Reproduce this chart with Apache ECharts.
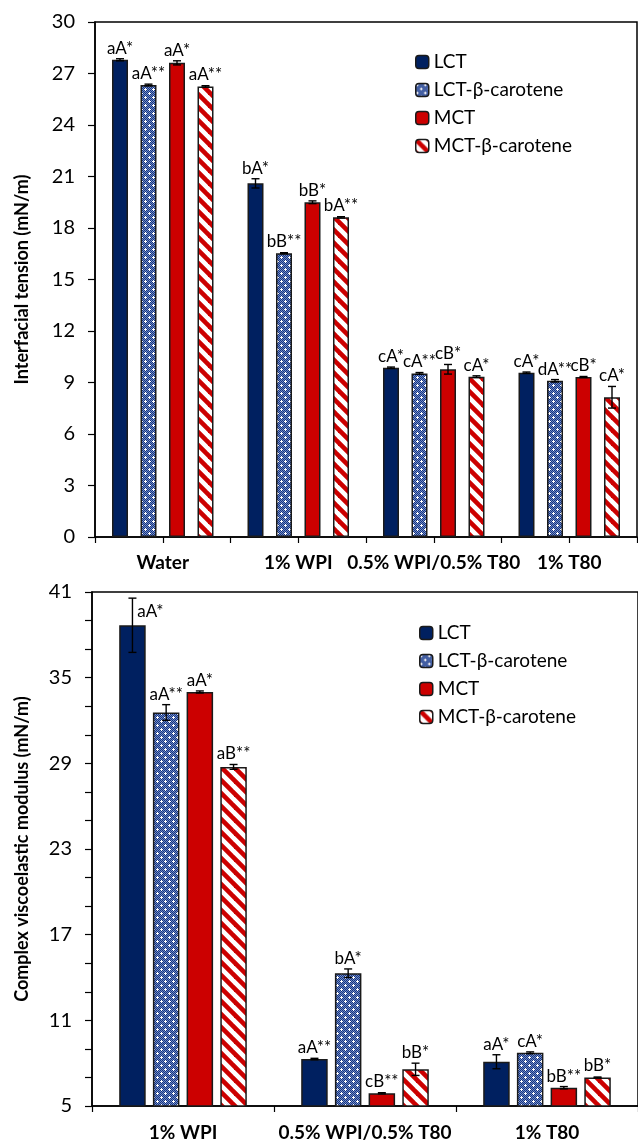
<!DOCTYPE html>
<html>
<head>
<meta charset="utf-8">
<script src="https://cdn.jsdelivr.net/npm/echarts@6/dist/echarts.min.js"></script>
<style>
  html, body { margin: 0; padding: 0; background: #fff; }
  #chart { width: 638px; height: 1142px; }
</style>
</head>
<body>
<div id="chart"></div>
<script>
// ---- data ----
const seriesNames = ['LCT', 'LCT-β-carotene', 'MCT', 'MCT-β-carotene']

// top: interfacial tension (mN/m)
const tensionCats = ['Water', '1% WPI', '0.5% WPI/0.5% T80', '1% T80']
const tensionLCT = [27.80, 20.60, 9.86, 9.57]
const tensionLCTb = [26.33, 16.53, 9.53, 9.10]
const tensionMCT = [27.62, 19.50, 9.77, 9.32]
const tensionMCTb = [26.25, 18.62, 9.34, 8.14]
const tensionErrLCT = [0.06, 0.27, 0.04, 0.04]
const tensionErrLCTb = [0.05, 0.03, 0.05, 0.07]
const tensionErrMCT = [0.12, 0.08, 0.28, 0.03]
const tensionErrMCTb = [0.04, 0.04, 0.05, 0.63]
const tensionTagLCT = ['aA*', 'bA*', 'cA*', 'cA*']
const tensionTagLCTb = ['aA**', 'bB**', 'cA**', 'dA**']
const tensionTagMCT = ['aA*', 'bB*', 'cB*', 'cB*']
const tensionTagMCTb = ['aA**', 'bA**', 'cA*', 'cA*']
const tensionTicks = [0, 3, 6, 9, 12, 15, 18, 21, 24, 27, 30]

// bottom: complex viscoelastic modulus (mN/m)
const modulusCats = ['1% WPI', '0.5% WPI/0.5% T80', '1% T80']
const modulusLCT = [38.67, 8.29, 8.10]
const modulusLCTb = [32.56, 14.30, 8.73]
const modulusMCT = [34.00, 5.89, 6.28]
const modulusMCTb = [28.75, 7.57, 7.00]
const modulusErrLCT = [1.90, 0.05, 0.49]
const modulusErrLCTb = [0.55, 0.30, 0.06]
const modulusErrMCT = [0.07, 0.04, 0.08]
const modulusErrMCTb = [0.17, 0.43, 0.03]
const modulusTagLCT = ['aA*', 'aA**', 'aA*']
const modulusTagLCTb = ['aA**', 'bA*', 'cA*']
const modulusTagMCT = ['aA*', 'cB**', 'bB**']
const modulusTagMCTb = ['aB**', 'bB*', 'bB*']
const modulusTicks = [5, 7, 9, 11, 13, 15, 17, 19, 21, 23, 25, 27, 29, 31, 33, 35, 37, 39, 41]
const modulusLabels = [5, 11, 17, 23, 29, 35, 41]

// ---- styling ----
const FONT = 'Lato'
const NAVY = '#002060'
const RED = '#cc0000'
const EDGE = '#1a1a1a'

function dotPattern() {
  const c = document.createElement('canvas')
  c.width = 8
  c.height = 8
  const ctx = c.getContext('2d')
  for (let y = 0; y < 8; y++) {
    for (let x = 0; x < 8; x++) {
      ctx.fillStyle = (x + y) % 2 ? '#6f8cc8' : '#17337f'
      ctx.fillRect(x, y, 1, 1)
    }
  }
  ctx.fillStyle = '#ffffff'
  const plus = (cx, cy) => {
    ctx.fillRect(cx - 1, cy, 3, 1)
    ctx.fillRect(cx, cy - 1, 1, 3)
  }
  plus(1, 1)
  plus(5, 5)
  return c
}

function stripePattern() {
  const s = 13
  const c = document.createElement('canvas')
  c.width = s
  c.height = s
  const ctx = c.getContext('2d')
  ctx.fillStyle = '#ffffff'
  ctx.fillRect(0, 0, s, s)
  ctx.strokeStyle = RED
  ctx.lineWidth = 4.6
  for (let k = -1; k <= 1; k++) {
    ctx.beginPath()
    ctx.moveTo(k * s - s, -s)
    ctx.lineTo(k * s + 2 * s, 2 * s)
    ctx.stroke()
  }
  return c
}

const fills = [
  NAVY,
  { image: dotPattern(), repeat: 'repeat' },
  RED,
  { image: stripePattern(), repeat: 'repeat' }
]

function bars(gridIdx, values, barW, gap) {
  return values.map((vals, i) => ({
    name: seriesNames[i],
    type: 'bar',
    xAxisIndex: gridIdx === 0 ? 0 : 2,
    yAxisIndex: gridIdx,
    data: vals,
    barWidth: barW,
    barGap: (gap / barW * 100) + '%',
    itemStyle: { color: fills[i], borderColor: EDGE, borderWidth: 1.5 },
    z: 2
  }))
}

// error bars + significance letters
function whiskers(gridIdx, values, errors, tags, barW, gap, nudges) {
  return values.map((vals, i) => ({
    name: 'err-' + gridIdx + '-' + i,
    type: 'custom',
    xAxisIndex: gridIdx === 0 ? 0 : 2,
    yAxisIndex: gridIdx,
    z: 5,
    silent: true,
    data: vals.map((v, j) => [j, v, errors[i][j]]),
    renderItem: (params, api) => {
      const j = api.value(0)
      const v = api.value(1)
      const e = api.value(2)
      const off = (i - 1.5) * (barW + gap)
      const top = api.coord([j, v])
      const x = top[0] + off
      const hi = api.coord([j, v + e])[1]
      const lo = api.coord([j, v - e])[1]
      const line = { stroke: '#000', lineWidth: 1.4 }
      const n = (nudges[i] && nudges[i][j]) || [0, 0]
      const children = [
        { type: 'line', shape: { x1: x, y1: hi, x2: x, y2: lo }, style: line },
        { type: 'line', shape: { x1: x - 4, y1: hi, x2: x + 4, y2: hi }, style: line },
        { type: 'line', shape: { x1: x - 4, y1: lo, x2: x + 4, y2: lo }, style: line },
        {
          type: 'text',
          x: x + n[0],
          y: Math.min(top[1] - 3, hi - 2) + n[1],
          style: {
            text: tags[i][params.dataIndex],
            fill: '#000',
            font: '17px ' + FONT,
            align: 'center',
            verticalAlign: 'bottom'
          }
        }
      ]
      return { type: 'group', children }
    }
  }))
}

const axisLine = { show: true, lineStyle: { color: '#000', width: 1.5 } }
const tickStyle = { color: '#000', width: 1.2 }

const topVals = [tensionLCT, tensionLCTb, tensionMCT, tensionMCTb]
const topErrs = [tensionErrLCT, tensionErrLCTb, tensionErrMCT, tensionErrMCTb]
const topTags = [tensionTagLCT, tensionTagLCTb, tensionTagMCT, tensionTagMCTb]
const botVals = [modulusLCT, modulusLCTb, modulusMCT, modulusMCTb]
const botErrs = [modulusErrLCT, modulusErrLCTb, modulusErrMCT, modulusErrMCTb]
const botTags = [modulusTagLCT, modulusTagLCTb, modulusTagMCT, modulusTagMCTb]

const chart = echarts.init(document.getElementById('chart'), null, { renderer: 'canvas' })

chart.setOption({
  animation: false,
  backgroundColor: '#fff',
  textStyle: { fontFamily: FONT, color: '#000' },
  grid: [
    { left: 95, top: 22, width: 542, height: 515, show: true, borderColor: '#000', borderWidth: 1.5, outerBoundsMode: 'none' },
    { left: 92, top: 592, width: 546, height: 514, show: true, borderColor: '#000', borderWidth: 1.5, outerBoundsMode: 'none' }
  ],
  legend: [
    {
      data: seriesNames, orient: 'vertical', left: 410, top: 47,
      itemWidth: 13, itemHeight: 13, itemGap: 8,
      itemStyle: { borderColor: EDGE, borderWidth: 1.5 },
      textStyle: { fontSize: 19, lineHeight: 20, fontFamily: FONT, color: '#000' },
      selectedMode: false
    },
    {
      data: seriesNames, orient: 'vertical', left: 414, top: 618,
      itemWidth: 13, itemHeight: 13, itemGap: 8,
      itemStyle: { borderColor: EDGE, borderWidth: 1.5 },
      textStyle: { fontSize: 19, lineHeight: 20, fontFamily: FONT, color: '#000' },
      selectedMode: false
    }
  ],
  xAxis: [
    {
      gridIndex: 0, type: 'category', data: tensionCats, position: 'bottom',
      axisLine, axisTick: { show: false },
      axisLabel: { interval: 0, fontSize: 19, fontWeight: 'bold', color: '#000', margin: 16 }
    },
    {
      // half-category tick marks under the top chart
      gridIndex: 0, type: 'category', data: ['', '', '', '', '', '', '', ''], position: 'bottom',
      axisLine: { show: false }, axisLabel: { show: false },
      axisTick: { show: true, length: 6, lineStyle: tickStyle }
    },
    {
      gridIndex: 1, type: 'category', data: modulusCats, position: 'bottom',
      axisLine, axisTick: { show: true, length: 6, lineStyle: tickStyle },
      axisLabel: { interval: 0, fontSize: 19, fontWeight: 'bold', color: '#000', margin: 17 }
    }
  ],
  yAxis: [
    {
      gridIndex: 0, type: 'value', min: 0, max: 30, interval: 3,
      axisLine, splitLine: { show: false },
      axisTick: { show: true, length: 7, lineStyle: tickStyle, customValues: tensionTicks },
      axisLabel: { fontSize: 20, color: '#000', margin: 20, customValues: tensionTicks },
      name: 'Interfacial tension (mN/m)', nameLocation: 'middle', nameGap: 64,
      nameTextStyle: { fontSize: 18, fontWeight: 'bold', color: '#000', fontFamily: FONT }
    },
    {
      gridIndex: 1, type: 'value', min: 5, max: 41,
      axisLine, splitLine: { show: false },
      axisTick: { show: true, length: 7, lineStyle: tickStyle, customValues: modulusTicks },
      axisLabel: { fontSize: 20, color: '#000', margin: 20, customValues: modulusLabels },
      name: 'Complex viscoelastic modulus (mN/m)', nameLocation: 'middle', nameGap: 61,
      nameTextStyle: { fontSize: 18, fontWeight: 'bold', color: '#000', fontFamily: FONT }
    }
  ],
  series: [
    ...bars(0, topVals, 16, 12.5),
    ...whiskers(0, topVals, topErrs, topTags, 16, 12.5, []),
    ...bars(1, botVals, 26.5, 7.2),
    ...whiskers(1, botVals, botErrs, botTags, 26.5, 7.2, [[[18, 24]]])
  ]
})
</script>
</body>
</html>
